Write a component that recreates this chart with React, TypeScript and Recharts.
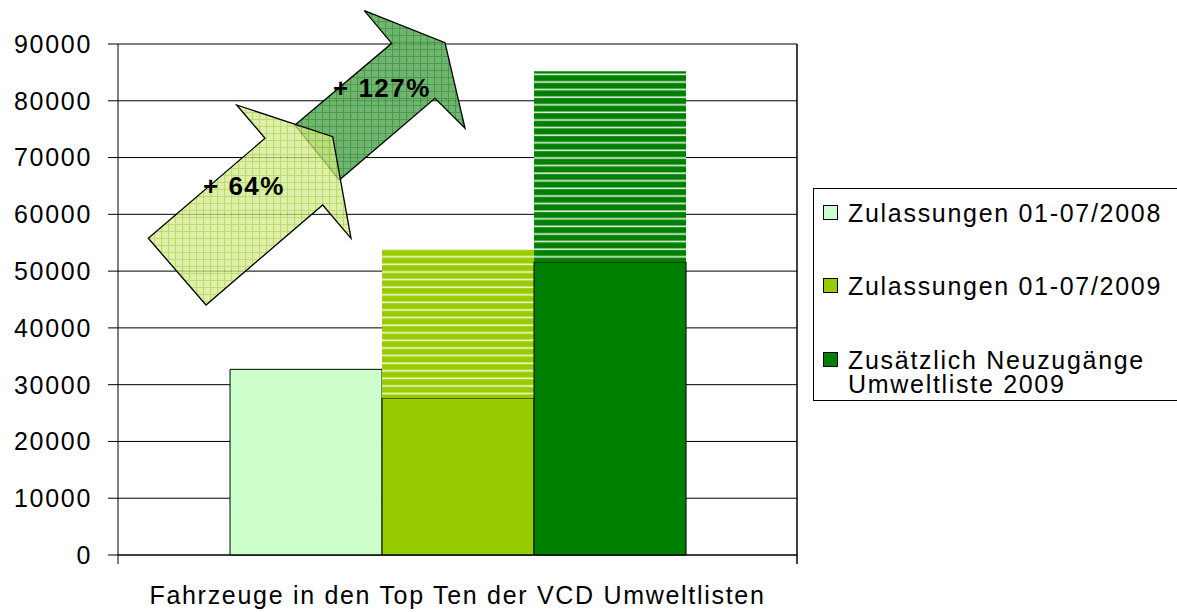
import React from "react";
import { BarChart, Bar, XAxis, YAxis, CartesianGrid, Legend } from "recharts";

const categories = ["Fahrzeuge in den Top Ten der VCD Umweltlisten"];
const zul2008 = [32700];
const zul2009Solid = [27650];
const zul2009Total = [53900];
const neuSolid = [51600];
const neuTotal = [85200];
const yTicks = [0, 10000, 20000, 30000, 40000, 50000, 60000, 70000, 80000, 90000];
const legendLabels = ["Zulassungen 01-07/2008", "Zulassungen 01-07/2009", "Zusätzlich Neuzugänge\nUmweltliste 2009"];
const legendColors = ["#CCFFCC", "#99CC00", "#008000"];
const arrowLabels = ["+ 64%", "+ 127%"];

const data = categories.map((c, i) => ({
  cat: c,
  a2008: zul2008[i],
  b2009: zul2009Solid[i],
  b2009s: zul2009Total[i] - zul2009Solid[i],
  cNeu: neuSolid[i],
  cNeus: neuTotal[i] - neuSolid[i],
}));

const FONT = "'Liberation Sans', Arial, sans-serif";
const FS = 25;
const LS = 1.7;

const LegendBox = () => (
  <div
    style={{
      position: "absolute",
      left: 813,
      top: 188,
      width: 400,
      height: 213,
      border: "1px solid #000",
      boxSizing: "border-box",
      background: "#fff",
      fontFamily: FONT,
      fontSize: FS,
      letterSpacing: LS,
      color: "#000",
    }}
  >
    {legendLabels.map((l, i) => (
      <div
        key={i}
        style={{
          position: "absolute",
          left: 9,
          top: [12, 85, 159][i],
          display: "flex",
          alignItems: "flex-start",
          lineHeight: "24px",
        }}
      >
        <div
          style={{
            width: 13,
            height: 13,
            background: legendColors[i],
            border: "1px solid #000",
            marginTop: 4,
            marginRight: 10,
            flex: "none",
          }}
        />
        <div style={{ whiteSpace: "pre" }}>{l}</div>
      </div>
    ))}
  </div>
);

export default function App() {
  return (
    <div style={{ position: "absolute", left: 0, top: 0, width: 1177, height: 612, overflow: "hidden", background: "#fff" }}>
      <BarChart
        width={1177}
        height={612}
        data={data}
        margin={{ top: 44, right: 380, left: 0, bottom: 0 }}
        barCategoryGap="16.5%"
        barGap={0}
      >
        <defs>
          <pattern id="stripeOlive" patternUnits="userSpaceOnUse" width="8" height="7.6">
            <rect width="8" height="7.6" fill="#99CC00" />
            <rect y="5.2" width="8" height="1.6" fill="#f2f8dc" />
          </pattern>
          <pattern id="stripeGreen" patternUnits="userSpaceOnUse" width="8" height="7.6">
            <rect width="8" height="7.6" fill="#008000" />
            <rect y="5.2" width="8" height="1.6" fill="#e6f2e6" />
          </pattern>
        </defs>
        <CartesianGrid vertical={false} stroke="#000" strokeOpacity={1} />
        <XAxis
          dataKey="cat"
          height={57}
          tickLine={false}
          axisLine={{ stroke: "#000" }}
          tickMargin={25}
          tick={{ fontSize: FS, fill: "#000", fontFamily: FONT, letterSpacing: LS }}
        />
        <YAxis
          width={118}
          domain={[0, 90000]}
          ticks={yTicks}
          interval={0}
          tickSize={10}
          tickMargin={16}
          axisLine={{ stroke: "#000" }}
          tickLine={{ stroke: "#000" }}
          tick={{ fontSize: FS, fill: "#000", fontFamily: FONT, letterSpacing: LS }}
        />
        <Bar dataKey="a2008" stackId="a" fill="#CCFFCC" stroke="#000" strokeWidth={1} isAnimationActive={false} />
        <Bar dataKey="b2009" stackId="b" fill="#99CC00" stroke="#000" strokeWidth={1} isAnimationActive={false} />
        <Bar dataKey="b2009s" stackId="b" fill="url(#stripeOlive)" isAnimationActive={false} />
        <Bar dataKey="cNeu" stackId="c" fill="#008000" stroke="#000" strokeWidth={1} isAnimationActive={false} />
        <Bar dataKey="cNeus" stackId="c" fill="url(#stripeGreen)" isAnimationActive={false} />
        <Legend content={() => <LegendBox />} wrapperStyle={{ position: "absolute", left: 0, top: 0, width: 0, height: 0 }} />
      </BarChart>
      <svg
        width={1177}
        height={612}
        style={{ position: "absolute", left: 0, top: 0, pointerEvents: "none" }}
      >
        <defs>
          <pattern id="gridLight" patternUnits="userSpaceOnUse" width="7" height="7">
            <rect width="7" height="7" fill="#d2e98c" />
            <path d="M0 0.5 H7 M0.5 0 V7" stroke="#a8d03c" strokeWidth="1.2" />
          </pattern>
          <pattern id="gridDark" patternUnits="userSpaceOnUse" width="7" height="7">
            <rect width="7" height="7" fill="#5cac5c" />
            <path d="M0 0.5 H7 M0.5 0 V7" stroke="#338c33" strokeWidth="1.2" />
          </pattern>
        </defs>
        <line x1={118} y1={555} x2={118} y2={564} stroke="#000" />
        <line x1={797} y1={44} x2={797} y2={564} stroke="#000" strokeWidth={1.5} />
        <polygon
          points="295,125 391.7,43.3 364.3,10.7 445,42.7 465,128.3 435,98.3 339.3,180"
          fill="url(#gridDark)"
          fillOpacity={0.88}
          stroke="#000"
          strokeWidth={1.3}
        />
        <polygon
          points="148.3,238.3 265,138.3 236.7,105 332.7,136.7 351,238.3 322.7,205 206,305"
          fill="url(#gridLight)"
          fillOpacity={0.75}
          stroke="#000"
          strokeWidth={1.3}
        />
        <text x={203} y={195} fontFamily={FONT} fontWeight="bold" fontSize={26} letterSpacing={1.5} fill="#000">
          {arrowLabels[0]}
        </text>
        <text x={333} y={97} fontFamily={FONT} fontWeight="bold" fontSize={26} letterSpacing={1.5} fill="#000">
          {arrowLabels[1]}
        </text>
      </svg>
    </div>
  );
}
